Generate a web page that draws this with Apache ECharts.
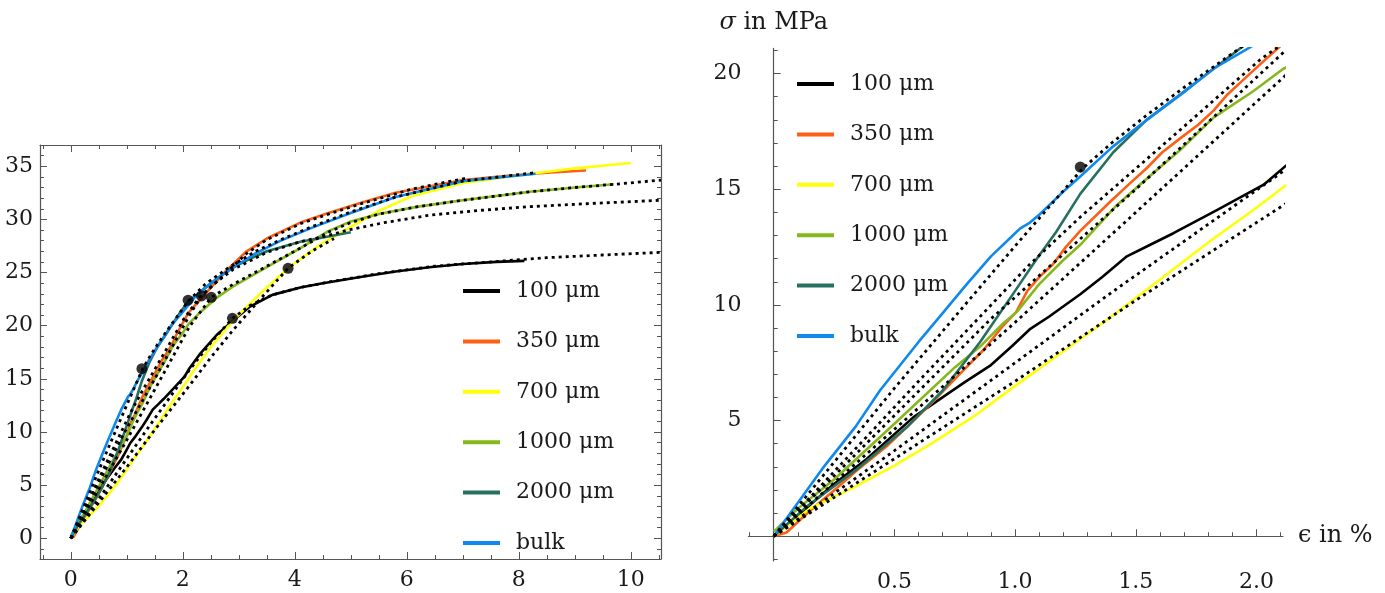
<!DOCTYPE html>
<html><head><meta charset="utf-8">
<script src="https://cdn.jsdelivr.net/npm/echarts@6/dist/echarts.min.js"></script>
<style>html,body{margin:0;padding:0;background:#fff}#c{width:1385px;height:593px}</style>
</head><body><div id="c"></div>
<script>
// ---- data (strain in %, stress in MPa) ----
const seriesNames = ['100 \u03bcm', '350 \u03bcm', '700 \u03bcm', '1000 \u03bcm', '2000 \u03bcm', 'bulk'];
const seriesColors = ['#000000', '#ff5f14', '#ffff0a', '#86b81e', '#26705f', '#1089ee'];

const exp100 = [[0,0],[0.1,0.9],[0.247,2.24],[0.385,3.34],[0.578,5.14],[0.79,6.65],[0.9,7.4],[0.99,8.25],[1.06,8.94],[1.14,9.49],[1.27,10.46],[1.36,11.2],[1.463,12.1],[1.56,12.6],[1.656,13.1],[1.836,14.1],[2.03,15.2],[2.12,16.0],[2.3,17.3],[2.6,19.1],[2.9,20.5],[3.2,21.8],[3.6,22.9],[4.1,23.6],[4.5,24.0],[5.2,24.6],[5.8,25.1],[6.4,25.5],[7.0,25.8],[7.6,26.0],[8.1,26.1]];
const exp350 = [[0,0],[0.053,0.16],[0.15,1.1],[0.247,1.96],[0.35,2.9],[0.468,3.89],[0.57,4.9],[0.661,5.83],[0.76,6.9],[0.868,8.04],[0.95,9.1],[1.005,9.7],[1.05,10.6],[1.1,11.2],[1.157,11.76],[1.21,12.5],[1.27,13.2],[1.394,14.46],[1.47,15.2],[1.545,15.91],[1.61,16.6],[1.684,17.2],[1.76,17.8],[1.822,18.4],[1.88,19.1],[1.932,19.6],[2.015,20.4],[2.1,21.2],[2.4,23.0],[2.78,25.2],[3.14,27.0],[3.5,28.2],[4.1,29.7],[4.6,30.6],[5.2,31.6],[5.8,32.5],[6.4,33.1],[7.0,33.7],[7.8,34.1],[8.5,34.4],[9.2,34.6]];
const exp700 = [[0,0],[0.15,1.2],[0.33,2.1],[0.5,3.05],[0.663,4.07],[0.829,5.18],[1.0,6.5],[1.2,8.0],[1.4,9.5],[1.6,11.1],[1.8,12.7],[2.0,14.2],[2.2,15.8],[2.5,18.0],[2.9,20.5],[3.4,23.1],[3.9,25.5],[4.45,27.6],[5.0,29.3],[5.5,30.8],[6.1,32.2],[7.0,33.4],[8.2,34.3],[9.0,34.8],[10.0,35.3]];
const exp1000 = [[0,0.2],[0.1,1.2],[0.25,2.45],[0.5,4.86],[0.75,7.3],[0.855,8.2],[0.95,9.2],[1.007,9.7],[1.1,10.9],[1.196,11.9],[1.27,12.6],[1.42,14.3],[1.55,15.5],[1.684,16.7],[1.822,18.1],[1.988,19.25],[2.11,20.2],[2.3,21.2],[2.6,22.6],[2.9,23.7],[3.5,25.5],[4.1,27.3],[4.6,28.9],[5.0,29.8],[5.5,30.5],[6.2,31.2],[7.0,31.8],[8.2,32.6],[9.0,33.0],[9.7,33.3]];
const exp2000 = [[0,0],[0.138,1.3],[0.345,2.9],[0.552,4.72],[0.7,6.3],[0.855,8.4],[0.993,10.5],[1.09,12.0],[1.17,13.15],[1.27,14.8],[1.407,16.6],[1.545,18.0],[1.684,19.1],[1.822,20.2],[1.946,21.2],[2.1,22.3],[2.3,23.1],[2.6,24.4],[2.9,25.5],[3.2,26.3],[3.5,27.0],[4.1,27.9],[4.6,28.4],[5.0,28.8]];
const expBulk = [[0,0],[0.1,1.45],[0.2,2.9],[0.34,4.75],[0.44,6.3],[0.6,8.4],[0.68,9.4],[0.8,10.9],[0.9,12.1],[1.0,13.1],[1.02,13.3],[1.06,13.55],[1.1,13.9],[1.2,14.9],[1.27,15.55],[1.4,16.8],[1.546,18.0],[1.7,19.2],[1.82,20.2],[2.0,21.3],[2.2,22.6],[2.4,23.6],[2.6,24.4],[2.8,25.1],[3.0,25.8],[3.3,26.8],[3.75,28.0],[4.3,29.2],[4.7,30.0],[5.0,30.6],[5.8,32.1],[7.0,33.6],[8.3,34.3]];

const fit100 = [[0,0],[0.5,3.7],[1.0,7.5],[1.408,10.6],[2.11,15.77],[2.5,18.4],[2.887,20.69],[3.2,21.9],[3.6,22.9],[4.1,23.6],[4.6,24.1],[5.5,24.9],[6.5,25.6],[7.5,26.0],[8.5,26.4],[9.5,26.65],[10.54,26.9]];
const fit350 = [[0,0],[0.9,9.4],[1.5,15.0],[2.11,20.9],[2.333,22.8],[2.78,25.0],[3.14,26.8],[3.5,28.1],[4.1,29.6],[4.6,30.5],[5.2,31.5],[5.8,32.4],[6.05,32.8],[6.6,33.4],[7.09,33.9]];
const fit700 = [[0,0],[1.0,6.7],[1.5,10.2],[2.11,14.3],[2.5,17.0],[2.9,19.6],[3.4,22.6],[3.88,25.4],[4.3,27.0],[4.7,28.2]];
const fit1000 = [[0,0],[0.995,9.2],[1.5,14.0],[2.12,19.92],[2.51,22.67],[2.9,23.9],[3.5,25.6],[4.1,27.3],[4.6,28.8],[5.0,29.7],[5.5,30.5],[6.2,31.2],[7.0,31.8],[8.2,32.6],[9.0,33.0],[9.7,33.3],[10.54,33.7]];
const fit2000 = [[0,0],[0.6,6.7],[1.062,11.77],[1.27,13.8],[1.6,16.8],[2.015,20.6],[2.3,22.7],[2.6,24.1],[2.9,25.3],[3.5,26.9],[4.1,27.9],[4.6,28.5],[4.95,29.0],[5.6,29.7],[6.41,30.4],[7.3,30.85],[8.2,31.2],[9.3,31.5],[10.54,31.8]];
const fitBulk = [[0,0],[0.5,6.4],[0.8,10.1],[1.021,12.8],[1.28,15.9],[1.4,17.0],[1.545,18.2],[1.7,19.4],[1.85,20.5],[2.095,22.3],[2.4,23.9],[2.8,25.4],[3.3,27.0],[3.8,28.2],[4.3,29.3],[5.0,30.7],[5.8,32.1],[7.0,33.6],[8.3,34.4]];
const yieldPoints = [[1.27,15.96],[2.095,22.4],[2.333,22.8],[2.51,22.67],[2.887,20.69],[3.88,25.4]];

// ---- ticks ----
const leftXLabels = [0, 2, 4, 6, 8, 10];
const leftYLabels = [0, 5, 10, 15, 20, 25, 30, 35];
const rightXLabels = [0.5, 1.0, 1.5, 2.0];
const rightYLabels = [5, 10, 15, 20];
function steps(a, b, s) { const r = []; for (let v = a; v <= b + 1e-9; v += s) r.push(Math.round(v * 1000) / 1000); return r; }
const leftXMinor = steps(-0.5, 10.5, 0.5);
const leftYMinor = steps(-1, 37, 1);
const rightXMinor = steps(-0.1, 2.1, 0.1);
const rightYMinor = steps(-1, 21, 1);

const FONT = 'DejaVu Serif';
const TXT = '#1a1a1a';
const AX = '#555555';

function ax(o) {
  const base = {
    type: 'value', min: o.min, max: o.max, gridIndex: o.grid, position: o.pos,
    splitLine: { show: false },
    axisLine: { show: !!o.line, onZero: !!o.onZero, lineStyle: { color: AX, width: 1.2 } },
    axisTick: { show: true, inside: true, length: o.len, customValues: o.ticks, lineStyle: { color: AX, width: 1 } },
    axisLabel: { show: !!o.labels, customValues: o.labels || [], margin: o.margin || 8, color: TXT, fontFamily: FONT, fontSize: 22,
      formatter: o.fmt || (v => String(v)) },
    z: 1
  };
  if (o.name) Object.assign(base, o.name);
  return base;
}

const xAxes = [
  ax({ grid: 0, pos: 'bottom', min: -0.55, max: 10.54, line: true, len: 7, ticks: leftXLabels, labels: leftXLabels, margin: 10 }),
  ax({ grid: 0, pos: 'bottom', min: -0.55, max: 10.54, len: 4, ticks: leftXMinor }),
  ax({ grid: 0, pos: 'top', min: -0.55, max: 10.54, line: true, len: 7, ticks: leftXLabels }),
  ax({ grid: 0, pos: 'top', min: -0.55, max: 10.54, len: 4, ticks: leftXMinor }),
  ax({ grid: 1, pos: 'bottom', min: -0.105, max: 2.11, line: true, onZero: true, len: 7, ticks: rightXLabels, labels: rightXLabels, margin: 10,
       fmt: v => v.toFixed(1),
       name: { name: '\u03f5 in %', nameLocation: 'end', nameGap: 15,
               nameTextStyle: { color: TXT, fontFamily: FONT, fontSize: 24, verticalAlign: 'middle' } } }),
  ax({ grid: 1, pos: 'bottom', min: -0.105, max: 2.11, onZero: true, len: 4, ticks: rightXMinor })
];
const yAxes = [
  ax({ grid: 0, pos: 'left', min: -1.95, max: 37.0, line: true, len: 7, ticks: leftYLabels, labels: leftYLabels, margin: 7 }),
  ax({ grid: 0, pos: 'left', min: -1.95, max: 37.0, len: 4, ticks: leftYMinor }),
  ax({ grid: 0, pos: 'right', min: -1.95, max: 37.0, line: true, len: 7, ticks: leftYLabels }),
  ax({ grid: 0, pos: 'right', min: -1.95, max: 37.0, len: 4, ticks: leftYMinor }),
  ax({ grid: 1, pos: 'left', min: -1.07, max: 21.09, line: true, onZero: true, len: 7, ticks: rightYLabels, labels: rightYLabels, margin: 7,
       name: { name: '{i|\u03c3} in MPa', nameLocation: 'end', nameGap: 14,
               nameTextStyle: { color: TXT, fontFamily: FONT, fontSize: 24,
                 rich: { i: { fontStyle: 'italic', fontFamily: FONT, fontSize: 24, color: TXT } } } } }),
  ax({ grid: 1, pos: 'left', min: -1.07, max: 21.09, onZero: true, len: 4, ticks: rightYMinor })
];

const expData = [exp100, exp350, exp700, exp1000, exp2000, expBulk];
const fitData = [fit100, fit350, fit700, fit1000, fit2000, fitBulk];
const series = [];
[0, 4].forEach((axi) => {
  expData.forEach((d, i) => series.push({
    type: 'line', name: seriesNames[i], xAxisIndex: axi, yAxisIndex: axi, data: d,
    showSymbol: false, symbol: 'none', smooth: false,
    lineStyle: { color: seriesColors[i], width: 2.6, join: 'round' }, itemStyle: { color: seriesColors[i] }, z: 2, silent: true
  }));
  fitData.forEach((d, i) => series.push({
    type: 'line', name: 'fit ' + seriesNames[i], xAxisIndex: axi, yAxisIndex: axi, data: d,
    showSymbol: false, symbol: 'none', smooth: false,
    lineStyle: { color: '#000', width: 2.8, type: [3, 4] }, z: 3, silent: true
  }));
  series.push({ type: 'scatter', name: 'points', xAxisIndex: axi, yAxisIndex: axi, data: yieldPoints,
    symbol: 'circle', symbolSize: 11, itemStyle: { color: '#000' }, z: 4, silent: true });
});

function legend(left, top) {
  return {
    data: seriesNames, left: left, top: top, orient: 'vertical', itemWidth: 37, itemHeight: 4, itemGap: 24.4,
    icon: 'rect', symbolKeepAspect: false,
    itemStyle: { borderWidth: 0 },
    textStyle: { fontFamily: FONT, fontSize: 22, color: TXT, lineHeight: 26, padding: [0, 0, 0, 11] },
    selectedMode: false
  };
}

const chart = echarts.init(document.getElementById('c'), null, { renderer: 'canvas' });
chart.setOption({
  animation: false,
  backgroundColor: '#ffffff',
  grid: [
    { left: 40, top: 145, width: 621, height: 414, containLabel: false },
    { left: 748.4, top: 48.4, width: 534.6, height: 534.7, containLabel: false }
  ],
  xAxis: xAxes, yAxis: yAxes,
  legend: [legend(458, 273), legend(792, 66)],
  series: series
});
</script></body></html>
